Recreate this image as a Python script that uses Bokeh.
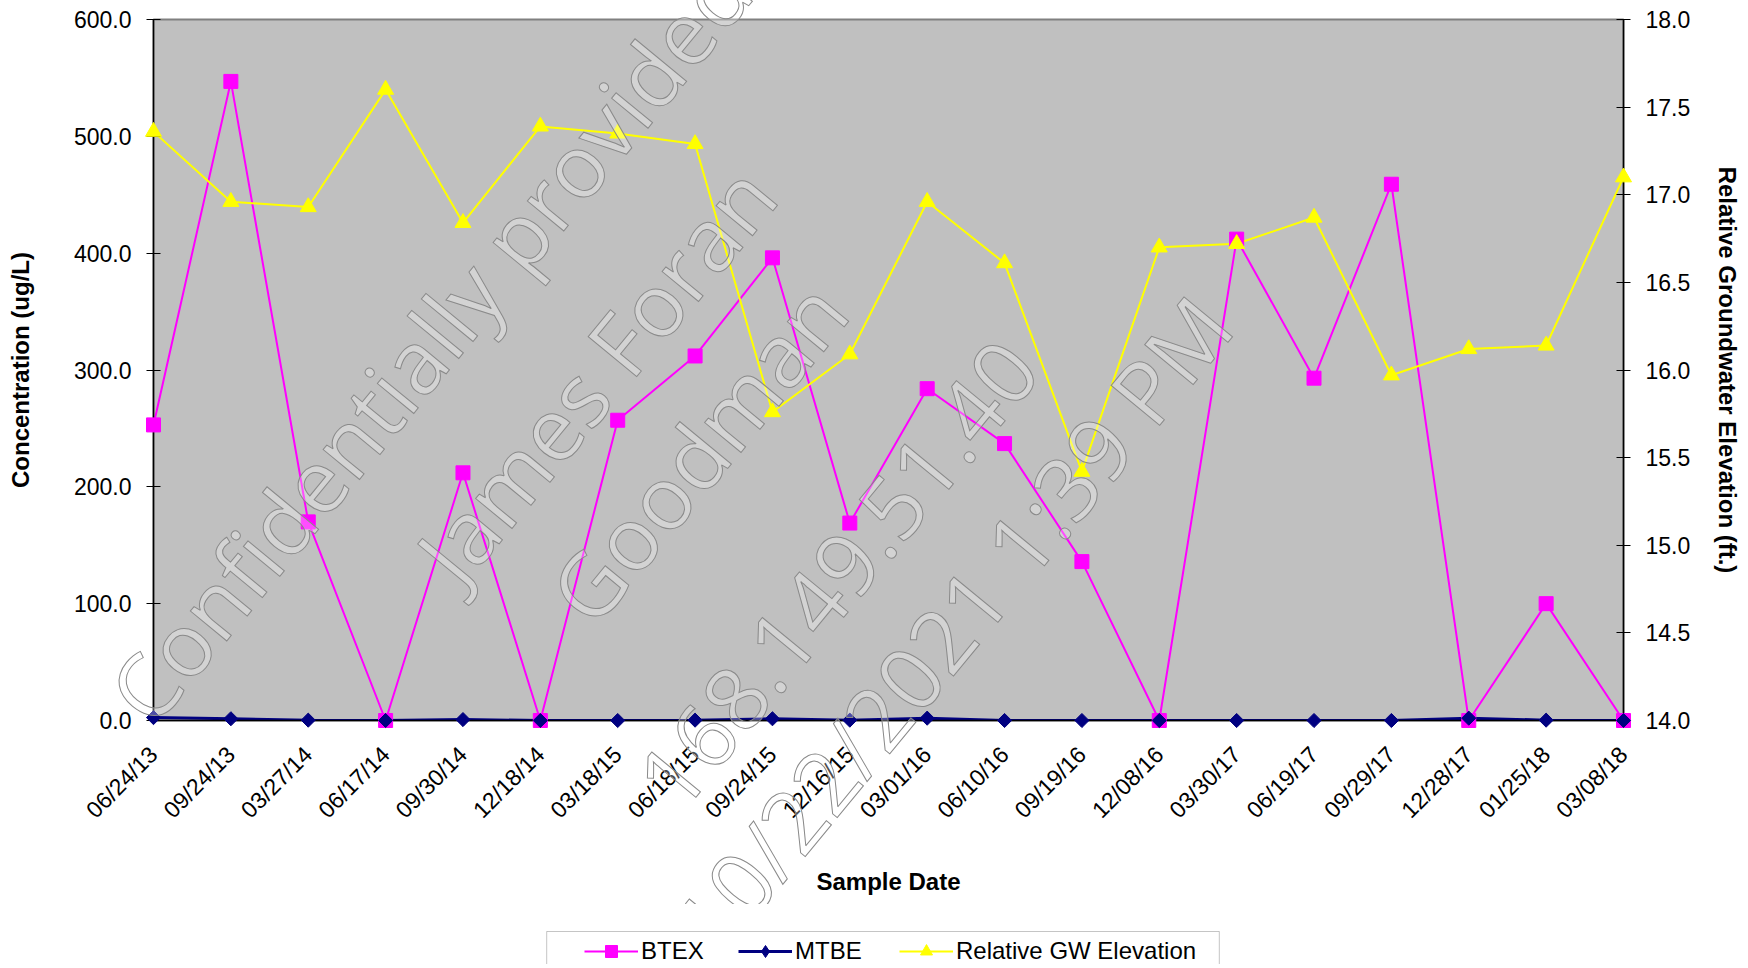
import math
from bokeh.plotting import figure
from bokeh.layouts import column
from bokeh.core.properties import value
from bokeh.models import (Range1d, LinearAxis, FixedTicker, NumeralTickFormatter,
                          Legend, LegendItem, BoxAnnotation)
from bokeh.embed import file_html
from bokeh.resources import INLINE

# ---------------- data ----------------
dates = ["06/24/13", "09/24/13", "03/27/14", "06/17/14", "09/30/14", "12/18/14",
         "03/18/15", "06/18/15", "09/24/15", "12/16/15", "03/01/16", "06/10/16",
         "09/19/16", "12/08/16", "03/30/17", "06/19/17", "09/29/17", "12/28/17",
         "01/25/18", "03/08/18"]
btex = [253, 547, 170, 0, 212, 0, 257, 312, 396, 169, 284, 237, 136, 0, 412, 293,
        459, 0, 100, 0]
mtbe = [2.5, 1.5, 0.3, 0, 0.8, 0, 0, 0.3, 1.5, 0.3, 2.0, 0, 0, 0, 0, 0, 0, 2.0,
        0.3, 0]
gw = [17.36, 16.96, 16.93, 17.60, 16.84, 17.39, 17.35, 17.29, 15.76, 16.09, 16.96,
      16.61, 15.42, 16.70, 16.72, 16.87, 15.97, 16.12, 16.14, 17.10]
conc_ticks = [0, 100, 200, 300, 400, 500, 600]
gw_ticks = [14.0, 14.5, 15.0, 15.5, 16.0, 16.5, 17.0, 17.5, 18.0]
series_names = ["BTEX", "MTBE", "Relative GW Elevation"]
watermark_lines = ["Confidentially provided to", "James Foran", "Goodman",
                   "168.149.51.40", "10/22/2021 1:39 PM"]
wm_x = [4.0, 5.71, 7.03, 8.85, 10.32]
wm_y = [360, 297, 230, 125, 82]

FONT = "Liberation Sans"
BTEX_C, MTBE_C, GW_C = "#FF00FF", "#000080", "#FFFF00"
xs = list(range(len(dates)))

# layout (page pixels)
W = 1744
FL, FR, FT, FB = 153, 1626, 19, 720          # plot-area edges
PH = 904                                      # chart figure height
LH = 60                                       # legend strip height

p = figure(width=W, height=PH,
           x_range=Range1d(0, len(dates) - 1), y_range=Range1d(0, 600),
           output_backend="svg", toolbar_location=None,
           min_border_left=FL, min_border_right=W - FR,
           min_border_top=FT, min_border_bottom=PH - FB)
p.extra_y_ranges = {"gw": Range1d(14, 18)}
p.background_fill_color = "#C0C0C0"
p.border_fill_color = "white"
p.outline_line_color = "#808080"
p.outline_line_width = 2
p.xgrid.visible = False
p.ygrid.visible = False


def style_axis(ax, label, standoff):
    ax.minor_tick_line_color = None
    ax.axis_line_color = "black"
    ax.axis_line_width = 1.5
    ax.major_tick_line_color = "black"
    ax.major_label_text_font = FONT
    ax.major_label_text_font_size = "23px"
    ax.major_label_text_color = "black"
    ax.axis_label = label
    ax.axis_label_text_font = FONT
    ax.axis_label_text_font_size = "24px"
    ax.axis_label_text_font_style = "bold"
    ax.axis_label_text_color = "black"
    ax.axis_label_standoff = standoff


ya = p.yaxis[0]
ya.ticker = FixedTicker(ticks=conc_ticks)
ya.formatter = NumeralTickFormatter(format="0.0")
ya.major_tick_in = 7
ya.major_tick_out = 7
ya.major_label_standoff = 15
style_axis(ya, "Concentration (ug/L)", 37)

ra = LinearAxis(y_range_name="gw", ticker=FixedTicker(ticks=gw_ticks),
                formatter=NumeralTickFormatter(format="0.0"))
ra.major_tick_in = 7
ra.major_tick_out = 7
ra.major_label_standoff = 15
style_axis(ra, "Relative Groundwater Elevation (ft.)", 21)
p.add_layout(ra, "right")

xa = p.xaxis[0]
xa.ticker = FixedTicker(ticks=xs)
xa.major_label_overrides = {i: d for i, d in zip(xs, dates)}
xa.major_label_orientation = math.pi / 4
xa.major_tick_in = 0
xa.major_tick_out = 0
xa.major_label_standoff = 30
style_axis(xa, "Sample Date", 33)

# series
l1 = p.line(xs, btex, line_color=BTEX_C, line_width=2)
s1 = p.scatter(xs, btex, marker="square", size=14, fill_color=BTEX_C,
               line_color=BTEX_C, level="overlay")
l2 = p.line(xs, mtbe, line_color=MTBE_C, line_width=3)
s2 = p.scatter(xs, mtbe, marker="square", angle=math.pi / 4, size=10,
               fill_color=MTBE_C, line_color=MTBE_C, level="overlay")
l3 = p.line(xs, gw, line_color=GW_C, line_width=2, y_range_name="gw")
s3 = p.scatter(xs, gw, marker="triangle", size=16, fill_color=GW_C,
               line_color=GW_C, y_range_name="gw", level="overlay")

# watermark (outlined text, allowed to spill outside the plot area)
p.text(x=wm_x, y=wm_y, text=watermark_lines, angle=0.883, text_align="center",
       text_baseline="middle", text_font=value("Open Sans"), text_font_size="88px",
       text_color="rgba(255,255,255,0.3)", text_outline_color="#8a8a8a",
       level="overlay")

# ---------------- legend strip (its plot area aligns with the chart's) ----------------
q = figure(width=W, height=LH, x_range=Range1d(FL, FR), y_range=Range1d(0, LH),
           output_backend="svg", toolbar_location=None,
           x_axis_location=None, y_axis_location=None,
           min_border_left=0, min_border_right=0, min_border_top=0,
           min_border_bottom=0)
q.background_fill_color = "white"
q.border_fill_color = "white"
q.outline_line_color = None
q.xgrid.visible = False
q.ygrid.visible = False

ql1 = q.line(xs, btex, line_color=BTEX_C, line_width=2, visible=False)
qs1 = q.scatter(xs, btex, marker="square", size=14, fill_color=BTEX_C,
                line_color=BTEX_C, visible=False)
ql2 = q.line(xs, mtbe, line_color=MTBE_C, line_width=3, visible=False)
qs2 = q.scatter(xs, mtbe, marker="diamond", size=16,
                fill_color=MTBE_C, line_color=MTBE_C, visible=False)
ql3 = q.line(xs, gw, line_color=GW_C, line_width=2, visible=False)
qs3 = q.scatter(xs, gw, marker="triangle", size=16, fill_color=GW_C,
                line_color=GW_C, visible=False)

top_y = PH + LH - 931        # legend box top (page y 931) in strip coords
q.add_layout(BoxAnnotation(left=547, right=1221, top=top_y, bottom=-20,
                           fill_color="white", fill_alpha=1.0,
                           line_color="#404040", line_width=1))

glyph_left = [588, 742, 903]
for name, rends, gx in zip(series_names, [[ql1, qs1], [ql2, qs2], [ql3, qs3]],
                           glyph_left):
    lg = Legend(items=[LegendItem(label=name, renderers=rends)],
                location=(gx - 4 - FL, top_y - 35), orientation="horizontal")
    lg.label_text_font = FONT
    lg.label_text_font_size = "24px"
    lg.label_text_color = "black"
    lg.glyph_width = 54
    lg.glyph_height = 30
    lg.label_standoff = 3
    lg.padding = 4
    lg.margin = 0
    lg.border_line_color = None
    lg.background_fill_alpha = 0
    lg.inactive_fill_alpha = 0
    q.add_layout(lg)

layout = column(p, q, spacing=0)
open("out.html", "w").write(file_html(layout, INLINE))
